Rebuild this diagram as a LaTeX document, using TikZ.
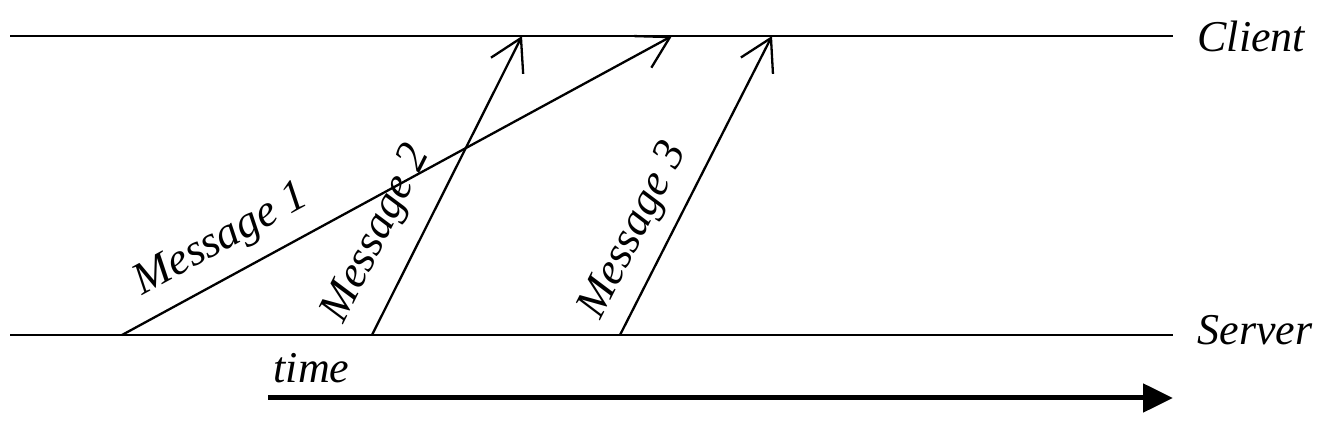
\documentclass[tikz,border=0pt]{standalone}
\usepackage{fontspec}
\setmainfont{Liberation Serif}
\usetikzlibrary{arrows.meta}
\begin{document}
\begin{tikzpicture}[x=1pt, y=1pt,
  lane/.style={line width=2.5pt},
  msg/.style={line width=2.3pt, -{Straight Barb[length=31pt, width=36pt]}},
  msglabel/.style={sloped, anchor=base, inner sep=0pt, font=\fontsize{45}{50}\selectfont\itshape},
  tag/.style={anchor=west, font=\fontsize{44}{50}\selectfont\itshape}]
\useasboundingbox (0,0) rectangle (1337,427);
\coordinate (cl) at (10,391);
\coordinate (cr) at (1173,391);
\coordinate (sl) at (10,92);
\coordinate (sr) at (1173,92);
\coordinate (s1) at (122,92);
\coordinate (c1) at (672,391);
\coordinate (s2) at (372,92);
\coordinate (c2) at (522,391);
\coordinate (s3) at (620,92);
\coordinate (c3) at (772,391);
\coordinate (t0) at (268,29);
\coordinate (t1) at (1173,29);
\node (client)[tag] at (1194,391) {Client};
\node (server)[tag] at (1194,97) {Server};
\node (time)[tag, anchor=base west] at (270,44) {time};
\draw[lane] (cl) -- (cr);
\draw[lane] (sl) -- (sr);
\draw[msg] (s1) -- node (m1)[msglabel, pos=0.212, yshift=25pt] {Message 1} (c1);
\draw[msg] (s2) -- node (m2)[msglabel, pos=0.276, yshift=30pt] {Message 2} (c2);
\draw[msg] (s3) -- node (m3)[msglabel, pos=0.296, yshift=24pt] {Message 3} (c3);
\draw[line width=5pt, -{Triangle[length=30pt, width=28pt]}] (t0) -- (t1);
\end{tikzpicture}
\end{document}
